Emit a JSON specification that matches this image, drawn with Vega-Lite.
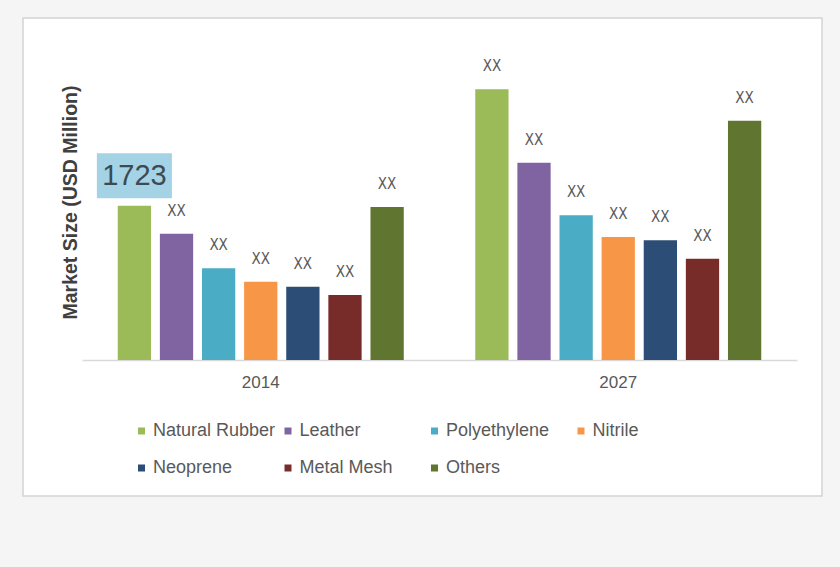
{
  "$schema": "https://vega.github.io/schema/vega-lite/v6.json",
  "width": 799,
  "height": 478,
  "autosize": {"type": "none"},
  "padding": {"left": 23, "top": 18, "right": 18, "bottom": 71},
  "background": "#f5f5f5",
  "view": {"fill": "white", "stroke": "#d4d4d4", "strokeWidth": 1.5},
  "config": {"font": "Liberation Sans"},
  "data": {
    "values": [
      {"year": "2014", "material": "Natural Rubber", "value": 1723, "label": "1723"},
      {"year": "2014", "material": "Leather", "value": 1410, "label": "XX"},
      {"year": "2014", "material": "Polyethylene", "value": 1024, "label": "XX"},
      {"year": "2014", "material": "Nitrile", "value": 874, "label": "XX"},
      {"year": "2014", "material": "Neoprene", "value": 819, "label": "XX"},
      {"year": "2014", "material": "Metal Mesh", "value": 726, "label": "XX"},
      {"year": "2014", "material": "Others", "value": 1708, "label": "XX"},
      {"year": "2027", "material": "Natural Rubber", "value": 3023, "label": "XX"},
      {"year": "2027", "material": "Leather", "value": 2203, "label": "XX"},
      {"year": "2027", "material": "Polyethylene", "value": 1616, "label": "XX"},
      {"year": "2027", "material": "Nitrile", "value": 1374, "label": "XX"},
      {"year": "2027", "material": "Neoprene", "value": 1337, "label": "XX"},
      {"year": "2027", "material": "Metal Mesh", "value": 1131, "label": "XX"},
      {"year": "2027", "material": "Others", "value": 2672, "label": "XX"}
    ]
  },
  "encoding": {
    "x": {
      "field": "year",
      "type": "nominal",
      "scale": {"range": [59, 774], "paddingInner": 0.2, "paddingOuter": 0.1},
      "axis": {
        "title": null,
        "orient": "bottom",
        "offset": -136,
        "ticks": false,
        "domainColor": "#d9d9d9",
        "domainWidth": 1.5,
        "labelFontSize": 17,
        "labelColor": "#595959",
        "labelPadding": 14,
        "labelAngle": 0
      }
    },
    "xOffset": {
      "field": "material",
      "type": "nominal",
      "sort": ["Natural Rubber", "Leather", "Polyethylene", "Nitrile", "Neoprene", "Metal Mesh", "Others"],
      "scale": {"paddingInner": 0.21, "paddingOuter": 0}
    },
    "y": {
      "field": "value",
      "type": "quantitative",
      "scale": {"domain": [0, 3596], "range": [342, 20], "nice": false, "zero": true},
      "axis": {
        "title": "Market Size (USD Million)",
        "labels": false,
        "ticks": false,
        "domain": false,
        "grid": false,
        "titleFontSize": 19.5,
        "titleFontWeight": "bold",
        "titleColor": "#404040",
        "titleX": 47,
        "titleY": 184,
        "titleAngle": -90,
        "titleBaseline": "middle",
        "titleAlign": "center"
      }
    }
  },
  "layer": [
    {
      "mark": {"type": "bar"},
      "encoding": {
        "color": {
          "field": "material",
          "type": "nominal",
          "scale": {
            "domain": ["Natural Rubber", "Leather", "Polyethylene", "Nitrile", "Neoprene", "Metal Mesh", "Others"],
            "range": ["#9bbb59", "#8064a2", "#4bacc6", "#f79646", "#2c4d75", "#772c2a", "#5f7530"]
          },
          "legend": {
            "orient": "none",
            "legendX": 109.5,
            "legendY": 404,
            "direction": "horizontal",
            "columns": 4,
            "title": null,
            "symbolType": "square",
            "symbolSize": 49,
            "symbolStrokeWidth": 0,
            "labelFontSize": 18,
            "labelColor": "#595959",
            "labelOffset": 2.5,
            "columnPadding": 3.5,
            "rowPadding": 19,
            "gridAlign": "all",
            "labelLimit": 300,
            "padding": 0
          }
        }
      }
    },
    {
      "transform": [{"filter": "datum.label == 'XX'"}],
      "mark": {"type": "text", "dy": -23, "baseline": "middle", "fontSize": 15, "font": "DejaVu Sans Condensed", "color": "#595959"},
      "encoding": {"text": {"field": "label"}}
    },
    {
      "transform": [{"filter": "datum.label != 'XX'"}],
      "mark": {"type": "point", "shape": "M-1.667,-1L1.667,-1L1.667,1L-1.667,1Z", "filled": true, "color": "#a3d3e5", "opacity": 1, "size": 2025, "strokeWidth": 0, "yOffset": -30},
      "encoding": {}
    },
    {
      "transform": [{"filter": "datum.label != 'XX'"}],
      "mark": {"type": "text", "dy": -30, "baseline": "middle", "fontSize": 29, "color": "#3d4a52"},
      "encoding": {"text": {"field": "label"}}
    }
  ]
}
